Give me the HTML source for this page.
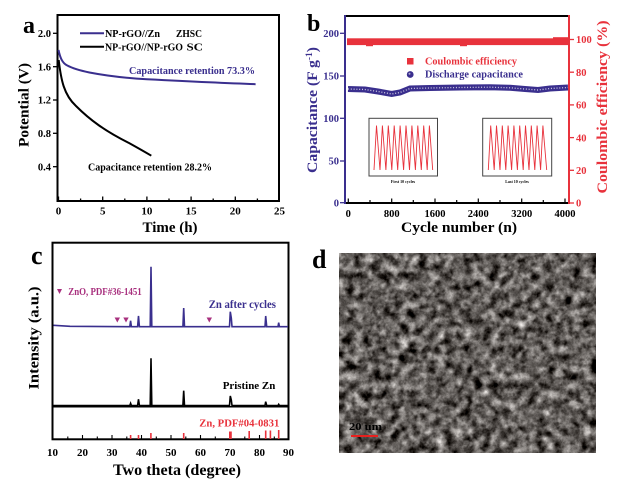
<!DOCTYPE html>
<html><head><meta charset="utf-8"><style>
html,body{margin:0;padding:0;background:#fff;}
svg{display:block;}
text{font-family:"Liberation Serif","DejaVu Serif",serif;font-weight:bold;}
</style></head><body>
<svg width="626" height="488" viewBox="0 0 626 488" xmlns="http://www.w3.org/2000/svg">
<defs>
<filter id="sem" x="0" y="0" width="100%" height="100%" color-interpolation-filters="sRGB">
<feTurbulence type="fractalNoise" baseFrequency="0.11" numOctaves="4" seed="7"/>
<feColorMatrix type="matrix" values="0.72 0.72 0.72 0 -0.705  0.72 0.72 0.72 0 -0.722  0.72 0.72 0.72 0 -0.735  0 0 0 0 1"/>
</filter>
</defs>

<!-- ================= PANEL A ================= -->
<text x="23" y="33" font-size="24">a</text>
<rect x="57.5" y="15" width="221.5" height="186" fill="none" stroke="#000" stroke-width="2"/>
<g stroke="#000" stroke-width="1.3">
<line x1="53" y1="33.3" x2="57" y2="33.3"/><line x1="53" y1="66.7" x2="57" y2="66.7"/>
<line x1="53" y1="100" x2="57" y2="100"/><line x1="53" y1="133.3" x2="57" y2="133.3"/>
<line x1="53" y1="166.7" x2="57" y2="166.7"/>
<line x1="58.5" y1="201" x2="58.5" y2="196.5"/><line x1="80.6" y1="201" x2="80.6" y2="198.5"/>
<line x1="102.7" y1="201" x2="102.7" y2="196.5"/><line x1="124.8" y1="201" x2="124.8" y2="198.5"/>
<line x1="146.9" y1="201" x2="146.9" y2="196.5"/><line x1="169" y1="201" x2="169" y2="198.5"/>
<line x1="191.1" y1="201" x2="191.1" y2="196.5"/><line x1="213.2" y1="201" x2="213.2" y2="198.5"/>
<line x1="235.3" y1="201" x2="235.3" y2="196.5"/><line x1="257.4" y1="201" x2="257.4" y2="198.5"/>
</g>
<g font-size="10.5" text-anchor="end">
<text x="51" y="37">2.0</text><text x="51" y="70.4">1.6</text><text x="51" y="103.7">1.2</text>
<text x="51" y="137">0.8</text><text x="51" y="170.4">0.4</text>
</g>
<g font-size="11" text-anchor="middle">
<text x="58.5" y="214.5">0</text><text x="102.7" y="214.5">5</text><text x="146.9" y="214.5">10</text>
<text x="191.1" y="214.5">15</text><text x="235.3" y="214.5">20</text><text x="279.5" y="214.5">25</text>
</g>
<text x="170" y="232" font-size="15" text-anchor="middle" textLength="55" lengthAdjust="spacingAndGlyphs">Time (h)</text>
<text transform="translate(23,105) rotate(-90)" dy="0.35em" font-size="15" text-anchor="middle" textLength="84" lengthAdjust="spacingAndGlyphs">Potential (V)</text>
<!-- legend -->
<line x1="80" y1="33.3" x2="104" y2="33.3" stroke="#3a2f8e" stroke-width="2"/>
<line x1="80" y1="46.7" x2="104" y2="46.7" stroke="#000" stroke-width="2"/>
<text x="105" y="37" font-size="10.5" textLength="55" lengthAdjust="spacingAndGlyphs">NP-rGO//Zn</text>
<text x="176" y="37" font-size="10.5" textLength="26" lengthAdjust="spacingAndGlyphs">ZHSC</text>
<text x="105" y="50.5" font-size="10.5" textLength="78" lengthAdjust="spacingAndGlyphs">NP-rGO//NP-rGO</text>
<text x="186.5" y="50.5" font-size="10.5" textLength="16.5" lengthAdjust="spacingAndGlyphs">SC</text>
<!-- curves -->
<path d="M58.5,50 C60,57 62,63 67.3,65.5 C72,68 80,70.5 89.4,72.5 C105,75.5 125,78 146.9,79.3 C180,81 220,83 255.6,84.2" fill="none" stroke="#3a2f8e" stroke-width="2"/>
<path d="M58.7,60 C61,80 64,95 76,106 C90,120 105,131 129,143 C138,148 145,152 151.3,155.7" fill="none" stroke="#000" stroke-width="2"/>
<text x="129" y="74" font-size="11" fill="#3a2f8e" textLength="126" lengthAdjust="spacingAndGlyphs">Capacitance retention 73.3%</text>
<text x="88" y="170.5" font-size="11" fill="#000" textLength="124" lengthAdjust="spacingAndGlyphs">Capacitance retention 28.2%</text>

<!-- ================= PANEL B ================= -->
<text x="307" y="31" font-size="24">b</text>
<line x1="345" y1="16" x2="569" y2="16" stroke="#000" stroke-width="2"/>
<line x1="345" y1="203" x2="569" y2="203" stroke="#000" stroke-width="2"/>
<line x1="345" y1="15" x2="345" y2="204" stroke="#3a2f8e" stroke-width="2"/>
<line x1="569" y1="15" x2="569" y2="204" stroke="#e8323c" stroke-width="2"/>
<g stroke="#3a2f8e" stroke-width="1.3">
<line x1="340" y1="33.3" x2="345" y2="33.3"/><line x1="340" y1="76" x2="345" y2="76"/>
<line x1="340" y1="118.3" x2="345" y2="118.3"/><line x1="340" y1="161" x2="345" y2="161"/>
<line x1="340" y1="202.7" x2="345" y2="202.7"/>
</g>
<g stroke="#e8323c" stroke-width="1.3">
<line x1="569" y1="39.5" x2="574" y2="39.5"/><line x1="569" y1="72.2" x2="574" y2="72.2"/>
<line x1="569" y1="104.9" x2="574" y2="104.9"/><line x1="569" y1="137.6" x2="574" y2="137.6"/>
<line x1="569" y1="170.3" x2="574" y2="170.3"/><line x1="569" y1="203" x2="574" y2="203"/>
</g>
<g stroke="#000" stroke-width="1.2">
<line x1="348.3" y1="203" x2="348.3" y2="198.5"/><line x1="370" y1="203" x2="370" y2="200"/>
<line x1="391.7" y1="203" x2="391.7" y2="198.5"/><line x1="413.3" y1="203" x2="413.3" y2="200"/>
<line x1="435" y1="203" x2="435" y2="198.5"/><line x1="456.7" y1="203" x2="456.7" y2="200"/>
<line x1="478.3" y1="203" x2="478.3" y2="198.5"/><line x1="500" y1="203" x2="500" y2="200"/>
<line x1="521.7" y1="203" x2="521.7" y2="198.5"/><line x1="543.3" y1="203" x2="543.3" y2="200"/>
<line x1="565" y1="203" x2="565" y2="198.5"/>
</g>
<g font-size="10.5" text-anchor="end" fill="#3a2f8e">
<text x="339" y="37">200</text><text x="339" y="79.7">150</text><text x="339" y="122">100</text>
<text x="339" y="164.7">50</text><text x="339" y="206.4">0</text>
</g>
<g font-size="10.5" fill="#e8323c">
<text x="576" y="43.2">100</text><text x="576" y="75.9">80</text><text x="576" y="108.6">60</text>
<text x="576" y="141.3">40</text><text x="576" y="174">20</text><text x="576" y="206.7">0</text>
</g>
<g font-size="10.5" text-anchor="middle">
<text x="348.3" y="217">0</text><text x="391.7" y="217">800</text><text x="435" y="217">1600</text>
<text x="478.3" y="217">2400</text><text x="521.7" y="217">3200</text><text x="565" y="217">4000</text>
</g>
<text x="459" y="232" font-size="15" text-anchor="middle" textLength="116" lengthAdjust="spacingAndGlyphs">Cycle number (n)</text>
<text transform="translate(311.5,110) rotate(-90)" dy="0.35em" font-size="15" text-anchor="middle" fill="#3a2f8e" textLength="126" lengthAdjust="spacingAndGlyphs">Capacitance (F g<tspan dy="-5" font-size="9">-1</tspan><tspan dy="5">)</tspan></text>
<text transform="translate(601.5,107) rotate(-90)" dy="0.35em" font-size="15" text-anchor="middle" fill="#e8323c" textLength="173" lengthAdjust="spacingAndGlyphs">Coulombic efficiency (%)</text>
<!-- CE band -->
<rect x="347" y="38.3" width="221" height="6.8" fill="#e8323c"/>
<rect x="366" y="44" width="7" height="2.2" fill="#e8323c"/>
<rect x="460" y="44" width="7" height="2.2" fill="#e8323c"/>
<rect x="553" y="37.2" width="15" height="2" fill="#e8323c"/>
<!-- capacitance band -->
<polyline points="348,89 365,89.5 378,91.5 391.7,94 400,92.5 410,88.5 430,88 460,87.5 490,87.2 510,87.8 525,89 538,90 550,88.5 568,87.5" fill="none" stroke="#3a2f8e" stroke-width="6"/>
<polyline points="348,89 365,89.5 378,91.5 391.7,94 400,92.5 410,88.5 430,88 460,87.5 490,87.2 510,87.8 525,89 538,90 550,88.5 568,87.5" fill="none" stroke="#fff" stroke-width="1.3" stroke-dasharray="1,1.8" opacity="0.75"/>
<!-- legend -->
<rect x="407" y="58" width="6.5" height="6.5" fill="#e8323c"/>
<circle cx="410.2" cy="74.5" r="3.4" fill="#3a2f8e"/>
<circle cx="409.5" cy="73.8" r="1" fill="#fff" opacity="0.6"/>
<text x="425" y="64.6" font-size="10.5" fill="#e8323c" textLength="92" lengthAdjust="spacingAndGlyphs">Coulombic efficiency</text>
<text x="425" y="77.6" font-size="10.5" fill="#3a2f8e" textLength="98" lengthAdjust="spacingAndGlyphs">Discharge capacitance</text>
<!-- insets -->
<rect x="369" y="118.3" width="68.5" height="57.7" fill="#fff" stroke="#444" stroke-width="1"/>
<rect x="482.7" y="118.3" width="69" height="57.7" fill="#fff" stroke="#444" stroke-width="1"/>
<polyline fill="none" stroke="#e8323c" stroke-width="0.9" points="374,170 376.5,125.5 380,170 382.4,125.5 385.9,170 388.3,125.5 391.8,170 394.2,125.5 397.7,170 400.1,125.5 403.6,170 406,125.5 409.5,170 411.9,125.5 415.4,170 417.8,125.5 421.3,170 423.7,125.5 427.2,170 429.4,125.5 432.7,170"/>
<polyline fill="none" stroke="#e8323c" stroke-width="0.9" points="488.3,170 490.7,125.5 494.2,170 496.5,125.5 500,170 502.3,125.5 505.8,170 508.1,125.5 511.6,170 513.9,125.5 517.4,170 519.7,125.5 523.2,170 525.5,125.5 529,170 531.3,125.5 534.8,170 537.1,125.5 540.6,170 542.9,125.5 546.7,170"/>
<text x="403" y="183" font-size="4" text-anchor="middle">First 10 cycles</text>
<text x="517" y="183" font-size="4" text-anchor="middle">Last 10 cycles</text>

<!-- ================= PANEL C ================= -->
<text x="31" y="264" font-size="26">c</text>
<rect x="52.5" y="242.7" width="236" height="196.6" fill="none" stroke="#000" stroke-width="2"/>
<line x1="52.5" y1="406.7" x2="288.5" y2="406.7" stroke="#000" stroke-width="1.5"/>
<g stroke="#000" stroke-width="1.1">
<line x1="67.8" y1="439" x2="67.8" y2="436.5"/><line x1="82.5" y1="439" x2="82.5" y2="435"/>
<line x1="97.3" y1="439" x2="97.3" y2="436.5"/><line x1="112" y1="439" x2="112" y2="435"/>
<line x1="126.8" y1="439" x2="126.8" y2="436.5"/><line x1="141.5" y1="439" x2="141.5" y2="435"/>
<line x1="156.3" y1="439" x2="156.3" y2="436.5"/><line x1="171" y1="439" x2="171" y2="435"/>
<line x1="185.8" y1="439" x2="185.8" y2="436.5"/><line x1="200.5" y1="439" x2="200.5" y2="435"/>
<line x1="215.3" y1="439" x2="215.3" y2="436.5"/><line x1="230" y1="439" x2="230" y2="435"/>
<line x1="244.8" y1="439" x2="244.8" y2="436.5"/><line x1="259.5" y1="439" x2="259.5" y2="435"/>
<line x1="274.3" y1="439" x2="274.3" y2="436.5"/>
</g>
<g font-size="11" text-anchor="middle">
<text x="52.5" y="456">10</text><text x="82.5" y="456">20</text><text x="112" y="456">30</text>
<text x="141.5" y="456">40</text><text x="171" y="456">50</text><text x="200.5" y="456">60</text>
<text x="230" y="456">70</text><text x="259.5" y="456">80</text><text x="288.5" y="456">90</text>
</g>
<text x="177" y="475" font-size="16" text-anchor="middle" textLength="128" lengthAdjust="spacingAndGlyphs">Two theta (degree)</text>
<text transform="translate(33,338) rotate(-90)" dy="0.35em" font-size="15" text-anchor="middle" textLength="103" lengthAdjust="spacingAndGlyphs">Intensity (a.u.)</text>
<!-- blue pattern -->
<path d="M53.5,325.3 L70,326.3 L129.8,326.7 L130.6,320.7 L131.4,326.7 L137.6,326.7 L138.5,316 L139.4,326.7 L150.2,326.7 L151,266.7 L151.8,326.7 L182.9,326.7 L183.7,308 L184.5,326.7 L229.5,326.7 L230.3,311.7 L231.3,318 L232,326.7 L265,326.7 L265.7,316 L266.7,326.7 L278,326.7 L278.7,322.7 L279.4,326.7 L288,326.7" fill="none" stroke="#3a2f8e" stroke-width="1.6"/>
<!-- black pattern -->
<path d="M53.5,405.5 L129.8,405.5 L130.6,403.3 L131.4,405.5 L137.6,405.5 L138.5,399.3 L139.4,405.5 L150.2,405.5 L151,358.3 L151.8,405.5 L182.9,405.5 L183.7,390.7 L184.5,405.5 L229.5,405.5 L230.3,396 L231.3,400 L232,405.5 L265,405.5 L265.7,401.7 L266.7,405.5 L278,405.5 L278.7,404.3 L279.4,405.5 L288,405.5" fill="none" stroke="#000" stroke-width="1.6"/>
<!-- reference sticks -->
<g stroke="#e8323c" stroke-width="1.6">
<line x1="130.6" y1="439" x2="130.6" y2="435"/><line x1="138.5" y1="439" x2="138.5" y2="435"/>
<line x1="150.9" y1="439" x2="150.9" y2="433"/><line x1="183.7" y1="439" x2="183.7" y2="433"/>
<line x1="229.8" y1="439" x2="229.8" y2="431.5"/><line x1="231" y1="439" x2="231" y2="431.5"/>
<line x1="249.2" y1="439" x2="249.2" y2="431"/><line x1="265.7" y1="439" x2="265.7" y2="430.5"/>
<line x1="270.4" y1="439" x2="270.4" y2="430.5"/><line x1="278.7" y1="439" x2="278.7" y2="430"/>
</g>
<!-- triangles -->
<g fill="#a8307e">
<polygon points="114.6,317.5 120,317.5 117.3,322.5"/>
<polygon points="123.3,317.5 128.7,317.5 126,322.5"/>
<polygon points="206.6,317.5 212,317.5 209.3,322.5"/>
<polygon points="57,289 62,289 59.5,294"/>
</g>
<text x="68.3" y="295" font-size="10" fill="#a8307e" textLength="73.4" lengthAdjust="spacingAndGlyphs">ZnO, PDF#36-1451</text>
<text x="208.7" y="308" font-size="11.5" fill="#3a2f8e" textLength="67.3" lengthAdjust="spacingAndGlyphs">Zn after cycles</text>
<text x="222.7" y="389" font-size="11" fill="#000" textLength="52.6" lengthAdjust="spacingAndGlyphs">Pristine Zn</text>
<text x="199.3" y="426.5" font-size="11" fill="#e8323c" textLength="80" lengthAdjust="spacingAndGlyphs">Zn, PDF#04-0831</text>

<!-- ================= PANEL D ================= -->
<text x="312" y="268" font-size="26">d</text>
<rect x="339.3" y="253.3" width="256.7" height="199.4" fill="#5f5a56"/>
<rect x="339.3" y="253.3" width="256.7" height="199.4" filter="url(#sem)"/>
<text x="349" y="430" font-size="10.5" fill="#000" textLength="33" lengthAdjust="spacingAndGlyphs">20 um</text>
<line x1="351" y1="436" x2="378" y2="436" stroke="#e8201e" stroke-width="2"/>
</svg>
</body></html>
